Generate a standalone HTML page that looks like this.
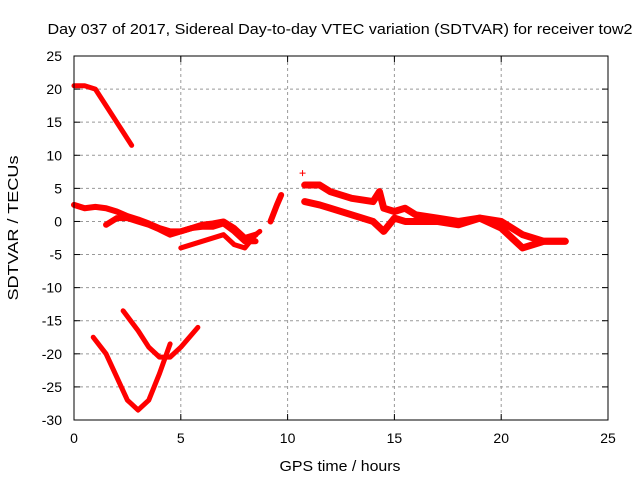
<!DOCTYPE html>
<html><head><meta charset="utf-8"><style>
body{margin:0;background:#fff}
svg{display:block;font-family:"Liberation Sans",sans-serif;font-size:14px}
</style></head><body>
<svg id="c" width="640" height="480">
<text x="340" y="34" text-anchor="middle" font-size="15" textLength="585" lengthAdjust="spacingAndGlyphs">Day 037 of 2017, Sidereal Day-to-day VTEC variation (SDTVAR) for receiver tow2</text>
<text x="340" y="471" text-anchor="middle" font-size="15" textLength="121" lengthAdjust="spacingAndGlyphs">GPS time / hours</text>
<text transform="translate(18,228) rotate(-90)" text-anchor="middle" font-size="15" textLength="145" lengthAdjust="spacingAndGlyphs">SDTVAR / TECUs</text>
<g id="grid"></g><g id="marks"></g>
<rect x="74" y="56" width="534" height="364" fill="none" stroke="#000"/>
</svg>
<script>
const xTicks=[0,5,10,15,20,25];
const yTicks=[25,20,15,10,5,0,-5,-10,-15,-20,-25,-30];
const segTopT=[0,0.5,1,1.5,2,2.5,2.7];
const segTopV=[20.5,20.5,20,17.5,15,12.5,11.5];
const segUpperT=[0,0.5,1,1.5,2,2.5,3,3.5,4,4.5,5,5.5,6,6.5,7,7.5,8,8.5];
const segUpperV=[2.5,2,2.2,2,1.5,0.8,0.3,-0.3,-1,-1.5,-1.5,-1,-0.8,-0.8,-0.3,-1.5,-3,-3];
const segMidT=[1.5,2,2.5,3,3.5,4,4.5,5,5.5,6,6.5,7,7.5,8,8.5];
const segMidV=[-0.5,0.5,0.5,0,-0.5,-1.2,-2,-1.5,-1,-0.5,-0.3,0,-1,-2.5,-2];
const segLowT=[5,6,7,7.5,8,8.5,8.7];
const segLowV=[-4,-3,-2,-3.5,-4,-2,-1.5];
const segBlobT=[9.2,9.5,9.7];
const segBlobV=[0,2.5,4];
const segG1T=[10.8,11.5,12,13,14,14.3,14.5,15,15.5,16,17,18,19,20,21,22,23];
const segG1V=[5.5,5.5,4.5,3.5,3,4.5,2,1.5,2,1,0.5,0,0.5,0,-2,-3,-3];
const segG2T=[10.8,11.5,12,13,14,14.5,15,15.5,16,17,18,19,20,20.5,21,22,23];
const segG2V=[3,2.5,2,1,0,-1.5,0.5,0,0,0,-0.5,0.5,-1,-2.5,-4,-3,-3];
const segArcT=[0.9,1.5,2,2.5,3,3.5,4,4.5];
const segArcV=[-17.5,-20,-23.5,-27,-28.5,-27,-23,-18.5];
const segArc2T=[2.3,3,3.5,4,4.5,5,5.8];
const segArc2V=[-13.5,-16.5,-19,-20.5,-20.5,-19,-16];
const singleT=[10.7];const singleV=[7.3];
const NS='http://www.w3.org/2000/svg';
const X=h=>74+h*534/25, Y=v=>56+(25-v)*364/55;
const grid=document.getElementById('grid'), marks=document.getElementById('marks');
function mk(t,a,p){const e=document.createElementNS(NS,t);for(const k in a)e.setAttribute(k,a[k]);p.appendChild(e);return e;}
xTicks.forEach(t=>{const x=X(t);
 if(t>0&&t<25){const l=mk('line',{x1:x,x2:x,y1:56,y2:420,stroke:'#999','stroke-dasharray':'3,3'},grid);
 
 }
 mk('line',{x1:x,x2:x,y1:420,y2:414,stroke:'#000'},grid);mk('line',{x1:x,x2:x,y1:56,y2:62,stroke:'#000'},grid);
 const tx=mk('text',{x:x,y:443,'text-anchor':'middle'},grid);tx.textContent=t;
 
 });
yTicks.forEach(t=>{const y=Y(t);
 if(t<25&&t>-30){const l=mk('line',{x1:74,x2:608,y1:y,y2:y,stroke:'#999','stroke-dasharray':'3,3'},grid);
 
 }
 mk('line',{x1:74,x2:80,y1:y,y2:y,stroke:'#000'},grid);mk('line',{x1:608,x2:602,y1:y,y2:y,stroke:'#000'},grid);
 const tx=mk('text',{x:62,y:y+5,'text-anchor':'end'},grid);tx.textContent=t;
 
 });
const segs=[[segTopT,segTopV,5],[segUpperT,segUpperV,6],[segMidT,segMidV,6],[segLowT,segLowV,5],[segBlobT,segBlobV,6],[segG1T,segG1V,7],[segG2T,segG2V,7],[segArcT,segArcV,5],[segArc2T,segArc2V,5]];
segs.forEach(([T,V,w])=>{const p=mk('polyline',{points:T.map((t,i)=>X(t)+','+Y(V[i])).join(' '),fill:'none',stroke:'#f00','stroke-width':w,'stroke-linejoin':'round','stroke-linecap':'round'},marks);
 
 });
singleT.forEach((t,i)=>{const x=X(t),y=Y(singleV[i]);const p=mk('path',{d:`M${x-3},${y}h6M${x},${y-3}v6`,stroke:'#f00'},marks);
 
 });
</script>
</body></html>
